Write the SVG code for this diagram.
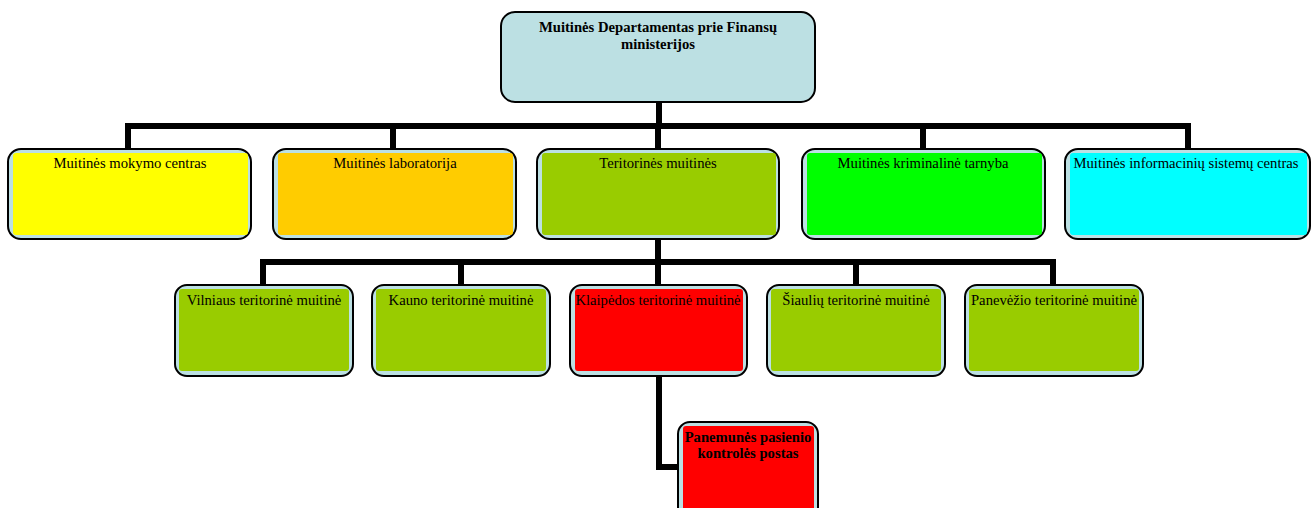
<svg xmlns="http://www.w3.org/2000/svg" width="1316" height="508" viewBox="0 0 1316 508">
<style>
.box{fill:#BCE0E3;stroke:#000;stroke-width:2}
.t{font-family:"Liberation Serif","Times New Roman",serif;font-size:14.67px;fill:#000;text-anchor:middle}
.b{font-weight:bold}
.c{fill:none;stroke:#000;stroke-width:6;stroke-linecap:butt;stroke-linejoin:miter}
</style>
<rect width="1316" height="508" fill="#fff"/>
<g id="connectors">
<path class="c" d="M659 102V126M128 126H1191M128 123V149M393 123V149M658 123V149M923 123V149M1188 123V149"/>
<path class="c" d="M658 239V262M263 262H1054M263 259V285M461 259V285M658 259V285M856 259V285M1053 259V285"/>
<path class="c" d="M659 376V467H679"/>
</g>
<g id="n0">
<rect class="box" x="501" y="12" width="314" height="90" rx="14"/>
<text class="t b" x="658" y="32">Muitinės Departamentas prie Finansų</text>
<text class="t b" x="658" y="49">ministerijos</text>
</g>
<g id="n1">
<rect class="box" x="8" y="149" width="243" height="90" rx="13"/>
<rect x="13" y="153" width="235" height="82" rx="3" fill="#FFFF00"/>
<text class="t" x="130" y="168">Muitinės mokymo centras</text>
</g>
<g id="n2">
<rect class="box" x="273" y="149" width="243" height="90" rx="13"/>
<rect x="278" y="153" width="235" height="82" rx="3" fill="#FFCC00"/>
<text class="t" x="395" y="168">Muitinės laboratorija</text>
</g>
<g id="n3">
<rect class="box" x="537" y="149" width="242" height="90" rx="13"/>
<rect x="542" y="153" width="234" height="82" rx="3" fill="#99CC00"/>
<text class="t" x="658" y="168">Teritorinės muitinės</text>
</g>
<g id="n4">
<rect class="box" x="802" y="149" width="243" height="90" rx="13"/>
<rect x="807" y="153" width="235" height="82" rx="3" fill="#00FF00"/>
<text class="t" x="923" y="168">Muitinės kriminalinė tarnyba</text>
</g>
<g id="n5">
<rect class="box" x="1065" y="149" width="245" height="90" rx="13"/>
<rect x="1070" y="153" width="237" height="82" rx="3" fill="#00FFFF"/>
<text class="t" x="1186" y="168">Muitinės informacinių sistemų centras</text>
</g>
<g id="n6">
<rect class="box" x="175" y="285" width="178" height="91" rx="12"/>
<rect x="179" y="289" width="170" height="82" rx="3" fill="#99CC00"/>
<text class="t" x="264" y="305">Vilniaus teritorinė muitinė</text>
</g>
<g id="n7">
<rect class="box" x="372" y="285" width="178" height="91" rx="12"/>
<rect x="376" y="289" width="170" height="82" rx="3" fill="#99CC00"/>
<text class="t" x="461" y="305">Kauno teritorinė muitinė</text>
</g>
<g id="n8">
<rect class="box" x="570" y="285" width="177" height="91" rx="12"/>
<rect x="575" y="289" width="168" height="82" rx="3" fill="#FF0000"/>
<text class="t" x="658" y="305">Klaipėdos teritorinė muitinė</text>
</g>
<g id="n9">
<rect class="box" x="767" y="285" width="178" height="91" rx="12"/>
<rect x="771" y="289" width="170" height="82" rx="3" fill="#99CC00"/>
<text class="t" x="856" y="305">Šiaulių teritorinė muitinė</text>
</g>
<g id="n10">
<rect class="box" x="965" y="285" width="178" height="91" rx="12"/>
<rect x="969" y="289" width="170" height="82" rx="3" fill="#99CC00"/>
<text class="t" x="1054" y="305">Panevėžio teritorinė muitinė</text>
</g>
<g id="n11">
<rect class="box" x="678" y="422" width="140" height="100" rx="12"/>
<rect x="683" y="426" width="131" height="90" rx="3" fill="#FF0000"/>
<text class="t b" x="748" y="442">Panemunės pasienio</text>
<text class="t b" x="748" y="458">kontrolės postas</text>
</g>
</svg>
